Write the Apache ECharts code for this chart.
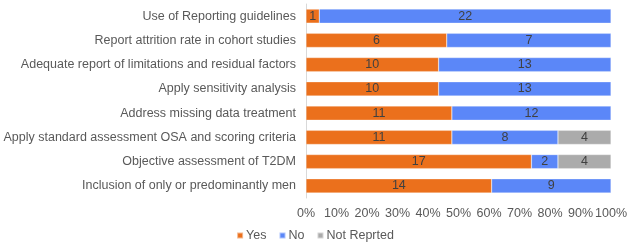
<!DOCTYPE html>
<html>
<head>
<meta charset="utf-8">
<script src="https://cdn.jsdelivr.net/npm/echarts@6/dist/echarts.min.js"></script>
<style>
  html, body { margin: 0; padding: 0; background: #fff; }
  #main { width: 630px; height: 250px; }
</style>
</head>
<body>
<div id="main"></div>
<script>
// categories, top to bottom
var categories = [
  'Use of Reporting guidelines',
  'Report attrition rate in cohort studies',
  'Adequate report of limitations and residual factors',
  'Apply sensitivity analysis',
  'Address missing data treatment',
  'Apply standard assessment OSA and scoring criteria',
  'Objective assessment of T2DM',
  'Inclusion of only or predominantly men'
];
var yesCounts = [1, 6, 10, 10, 11, 11, 17, 14];
var noCounts = [22, 7, 13, 13, 12, 8, 2, 9];
var notReportedCounts = [0, 0, 0, 0, 0, 4, 4, 0];
var tickLabels = ['0%', '10%', '20%', '30%', '40%', '50%', '60%', '70%', '80%', '90%', '100%'];

var font = 'Liberation Sans, Arial, sans-serif';

// share of each row total, label keeps the raw count
function toShare(counts) {
  return counts.map(function (c, i) {
    var total = yesCounts[i] + noCounts[i] + notReportedCounts[i];
    return { value: c === 0 ? null : c / total * 100, count: c };
  });
}

function makeSeries(name, counts, color) {
  return {
    name: name,
    type: 'bar',
    stack: 'total',
    barCategoryGap: '42%',
    data: toShare(counts),
    itemStyle: { color: color, borderColor: 'rgba(255,255,255,0.5)', borderWidth: 0.5 },
    label: {
      show: true,
      position: 'inside',
      color: '#404040',
      fontFamily: font,
      fontSize: 12.5,
      formatter: function (p) { return p.data.count; }
    }
  };
}

var chart = echarts.init(document.getElementById('main'), null, { renderer: 'canvas' });

var option = {
  animation: false,
  textStyle: { fontFamily: font },
  legend: {
    bottom: 3,
    left: 'center',
    itemWidth: 6,
    itemHeight: 6,
    itemGap: 12,
    icon: 'rect',
    textStyle: { color: '#595959', fontSize: 12.5, fontFamily: font, padding: [0, 0, 0, -2] },
    data: ['Yes', 'No', 'Not Reprted']
  },
  grid: {
    left: 306,
    right: 18,
    top: 4,
    height: 194,
    containLabel: false
  },
  xAxis: {
    type: 'value',
    min: 0,
    max: 100,
    interval: 10,
    axisLine: { show: false },
    axisTick: { show: false },
    splitLine: { show: false },
    axisLabel: {
      color: '#595959',
      fontSize: 12.5,
      fontFamily: font,
      margin: 9,
      formatter: function (v) { return tickLabels[Math.round(v / 10)]; }
    }
  },
  yAxis: {
    type: 'category',
    inverse: true,
    data: categories,
    axisLine: { show: true, lineStyle: { color: '#D9D9D9' } },
    axisTick: { show: false },
    axisLabel: {
      color: '#595959',
      fontSize: 12.5,
      fontFamily: font,
      margin: 10
    }
  },
  series: [
    makeSeries('Yes', yesCounts, '#EB701C'),
    makeSeries('No', noCounts, '#5B87F8'),
    makeSeries('Not Reprted', notReportedCounts, '#ABABAB')
  ]
};

chart.setOption(option);
</script>
</body>
</html>
